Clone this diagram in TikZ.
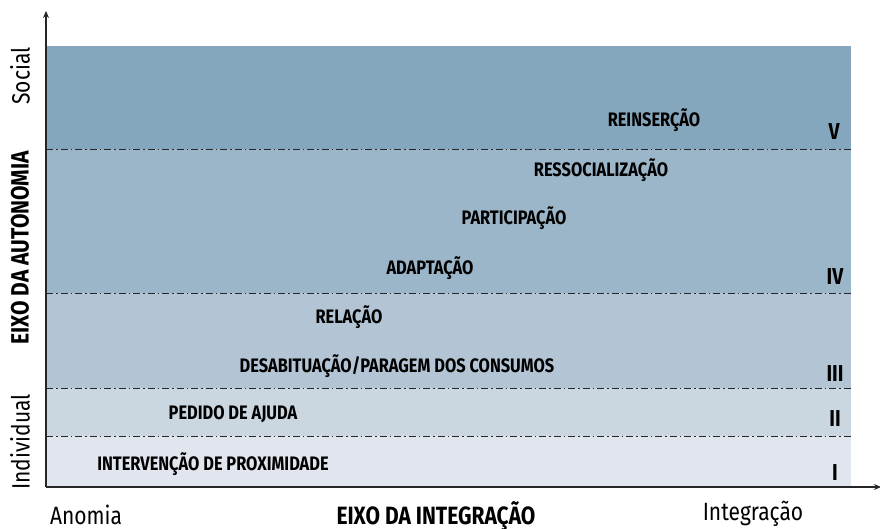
\documentclass[tikz,border=0pt]{standalone}
\usepackage{fontspec}
\setmainfont{Fira Sans}[FakeStretch=0.84]
\usetikzlibrary{arrows.meta}
\definecolor{bandV}{HTML}{84A7BE}
\definecolor{bandIV}{HTML}{9CB6C9}
\definecolor{bandIII}{HTML}{B3C5D4}
\definecolor{bandII}{HTML}{CAD6E0}
\definecolor{bandI}{HTML}{E1E6EE}
\tikzset{
  lvl/.style={font=\bfseries\fontsize{19.5}{22}\selectfont, inner sep=0pt, anchor=center},
  rom/.style={font=\bfseries\fontsize{23}{26}\selectfont, inner sep=0pt, anchor=center},
  sep/.style={draw=black!85, line width=0.8pt, dash pattern=on 7pt off 3pt on 1.5pt off 3pt},
  axis/.style={draw=black!85, line width=1.2pt, -{Stealth[length=7pt,width=6pt]}},
  side/.style={font=\fontsize{25}{28}\selectfont, inner sep=0pt},
  sideb/.style={font=\bfseries\fontsize{25}{28}\selectfont, inner sep=0pt},
}
\begin{document}
\begin{tikzpicture}[x=1pt,y=-1pt]
\useasboundingbox (0,0) rectangle (880,529);
% bands
\fill[bandV] (46,46) rectangle (851,149);
\fill[bandIV] (46,149) rectangle (851,293);
\fill[bandIII] (46,293) rectangle (851,388);
\fill[bandII] (46,388) rectangle (851,436);
\fill[bandI] (46,436) rectangle (851,487);
% separators
\coordinate (s1a) at (46,149); \coordinate (s1b) at (851,149);
\coordinate (s2a) at (46,293); \coordinate (s2b) at (851,293);
\coordinate (s3a) at (46,388); \coordinate (s3b) at (851,388);
\coordinate (s4a) at (46,436); \coordinate (s4b) at (851,436);
\draw[sep] (s1a) -- (s1b);
\draw[sep] (s2a) -- (s2b);
\draw[sep] (s3a) -- (s3b);
\draw[sep] (s4a) -- (s4b);
% axes
\coordinate (o) at (46,487);
\coordinate (ytip) at (46,11);
\coordinate (xtip) at (881,487);
\draw[axis] (o) -- (ytip);
\draw[axis] (o) -- (xtip);
% level labels
\node[lvl] (reins) at (654,120) {REINSERÇÃO};
\node[lvl] (resso) at (601,170) {RESSOCIALIZAÇÃO};
\node[lvl] (parti) at (514,218) {PARTICIPAÇÃO};
\node[lvl] (adapt) at (430,268) {ADAPTAÇÃO};
\node[lvl] (relac) at (349,317) {RELAÇÃO};
\node[lvl] (desab) at (397,366) {DESABITUAÇÃO/PARAGEM DOS CONSUMOS};
\node[lvl] (pedid) at (233,414) {PEDIDO DE AJUDA};
\node[lvl] (inter) at (213,464) {INTERVENÇÃO DE PROXIMIDADE};
% roman numerals
\node[rom] (rV) at (834,132) {V};
\node[rom] (rIV) at (835,277) {IV};
\node[rom] (rIII) at (835,374) {III};
\node[rom] (rII) at (835,419) {II};
\node[rom] (rI) at (835,473) {I};
% side labels
\node[side, rotate=90, anchor=center] (social) at (20,76) {Social};
\node[sideb, rotate=90, anchor=center] (eixoa) at (20,248) {EIXO DA AUTONOMIA};
\node[side, rotate=90, anchor=center] (indiv) at (20,442) {Individual};
% bottom labels
\node[side, anchor=base] (anom) at (86,524) {Anomia};
\node[sideb, anchor=base] (eixoi) at (436,524) {EIXO DA INTEGRAÇÃO};
\node[side, anchor=base] (integ) at (753,520) {Integração};
\end{tikzpicture}
\end{document}
